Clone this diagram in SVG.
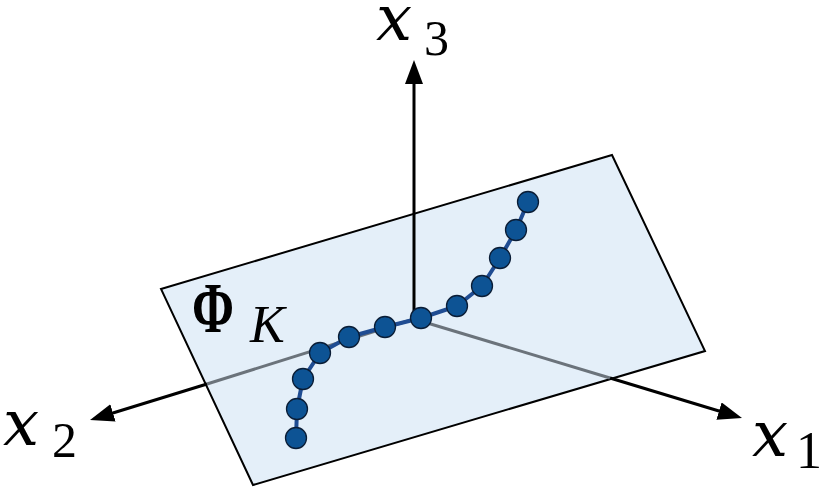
<svg xmlns="http://www.w3.org/2000/svg" width="830" height="494" viewBox="0 0 830 494">
  <style>
    .plane { fill: #e4eff9; stroke: #000; stroke-width: 2; stroke-linejoin: miter; }
    .ax { stroke: #000; stroke-width: 3; fill: none; }
    .axh { stroke: #6b737b; stroke-width: 3; fill: none; }
    .curve { stroke: #1f4c92; stroke-width: 4; fill: none; stroke-linejoin: round; }
    .pt { fill: #0d5394; stroke: #0a1d36; stroke-width: 1.3; }
    .lbl { font-family: "Liberation Serif", "DejaVu Serif", serif; fill: #000; }
    .var { font-family: "DejaVu Serif", "Liberation Serif", serif; font-style: italic; font-size: 64px; fill: #000; }
    .it { font-style: italic; }
  </style>
  <defs>
    <marker id="arrow" markerUnits="userSpaceOnUse" markerWidth="26" markerHeight="20" refX="12" refY="9" orient="auto">
      <path d="M0,0 L24,9 L0,18 Z" fill="#000"/>
    </marker>
  </defs>

  <g id="plane">
    <polygon class="plane" points="161,289 612,155 705,351 253,485"/>
  </g>

  <g id="connectors">
    <line class="axh" x1="414" y1="319" x2="610" y2="378"/>
    <line class="axh" x1="414" y1="319" x2="207" y2="384"/>
    <line class="ax" x1="610" y1="378" x2="730.5" y2="414.5" marker-end="url(#arrow)"/>
    <line class="ax" x1="207" y1="384" x2="101.5" y2="416.5" marker-end="url(#arrow)"/>
    <line class="ax" x1="414" y1="319" x2="414" y2="72" marker-end="url(#arrow)"/>
  </g>

  <g id="curve">
    <polyline class="curve" points="296,438 297,409 303,379 320,353 349,337 385,327 421,318 457,306 482,286 500,258 516,230 528,202"/>
    <circle class="pt" cx="296" cy="438" r="10.5"/>
    <circle class="pt" cx="297" cy="409" r="10.5"/>
    <circle class="pt" cx="303" cy="379" r="10.5"/>
    <circle class="pt" cx="320" cy="353" r="10.5"/>
    <circle class="pt" cx="349" cy="337" r="10.5"/>
    <circle class="pt" cx="385" cy="327" r="10.5"/>
    <circle class="pt" cx="421" cy="318" r="10.5"/>
    <circle class="pt" cx="457" cy="306" r="10.5"/>
    <circle class="pt" cx="482" cy="286" r="10.5"/>
    <circle class="pt" cx="500" cy="258" r="10.5"/>
    <circle class="pt" cx="516" cy="230" r="10.5"/>
    <circle class="pt" cx="528" cy="202" r="10.5"/>
  </g>

  <g id="label-x3">
    <text class="var" x="376" y="40">x</text>
    <text class="lbl" x="424" y="55" font-size="50">3</text>
  </g>
  <g id="label-x2">
    <text class="var" x="3" y="445">x</text>
    <text class="lbl" x="52" y="457" font-size="50">2</text>
  </g>
  <g id="label-x1">
    <text class="var" x="752" y="456">x</text>
    <text class="lbl" x="796" y="468" font-size="52">1</text>
  </g>
  <g id="label-phi">
    <text class="lbl" x="192" y="332" font-size="72" font-weight="bold" textLength="42" lengthAdjust="spacingAndGlyphs">Φ</text>
    <text class="lbl it" x="250" y="342" font-size="52">K</text>
  </g>
</svg>
